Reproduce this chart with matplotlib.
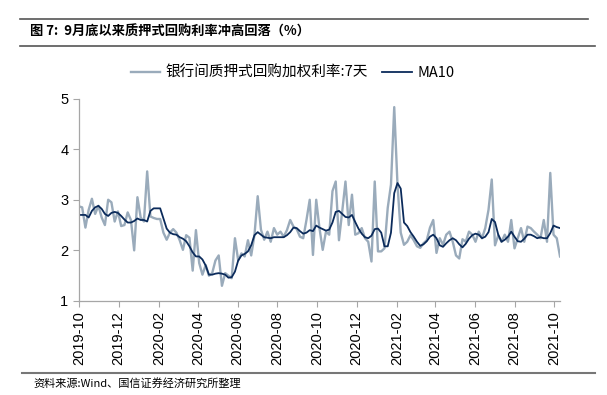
import matplotlib
matplotlib.use("Agg")
import matplotlib.pyplot as plt
import matplotlib.dates as mdates
import pandas as pd
import numpy as np

plt.rcParams['font.family'] = ['Liberation Sans', 'Noto Sans CJK SC', 'DejaVu Sans']

title = "图 7:  9月底以来质押式回购利率冲高回落（%）"
source = "资料来源:Wind、国信证券经济研究所整理"
series_name = "银行间质押式回购加权利率:7天"
ma_name = "MA10"

start_date = "2019-10-01"
step = "5D"

repo_7d = [
    2.87, 2.85, 2.45, 2.80, 3.02, 2.72, 2.88, 2.65, 2.50, 3.00,
    2.95, 2.57, 2.77, 2.48, 2.50, 2.75, 2.60, 2.00, 3.05, 2.65,
    2.57, 3.56, 2.67, 2.64, 2.62, 2.62, 2.35, 2.21, 2.35, 2.42,
    2.35, 2.20, 2.01, 2.30, 2.25, 1.60, 2.40, 1.75, 1.52, 1.71,
    1.50, 1.55, 1.80, 1.90, 1.30, 1.55, 1.50, 1.45, 2.24, 1.80,
    1.94, 1.88, 2.20, 1.90, 2.30, 3.07, 2.41, 2.21, 2.37, 2.17,
    2.44, 2.31, 2.37, 2.27, 2.40, 2.60, 2.47, 2.42, 2.27, 2.24,
    2.60, 3.00, 1.91, 3.00, 2.44, 2.01, 2.37, 2.31, 3.17, 3.36,
    2.20, 2.77, 3.36, 2.50, 3.10, 2.31, 2.34, 2.44, 2.24, 2.17,
    1.78, 3.36, 1.98, 1.98, 2.04, 2.84, 3.30, 4.83, 3.30, 2.35,
    2.11, 2.17, 2.30, 2.20, 2.08, 2.05, 2.14, 2.20, 2.45, 2.60,
    1.95, 2.24, 2.11, 2.31, 2.37, 2.17, 1.90, 1.84, 2.22, 2.17,
    2.37, 2.31, 2.17, 2.37, 2.24, 2.44, 2.80, 3.40, 2.10, 2.30,
    2.17, 2.31, 2.17, 2.60, 2.04, 2.24, 2.44, 2.17, 2.47, 2.44,
    2.37, 2.31, 2.24, 2.60, 2.17, 3.53, 2.31, 2.24, 1.88,
]

ma10 = [
    2.70, 2.70, 2.70, 2.65, 2.78, 2.85, 2.88, 2.82, 2.72, 2.68,
    2.74, 2.76, 2.74, 2.68, 2.61, 2.55, 2.55, 2.58, 2.63, 2.60,
    2.60, 2.57, 2.78, 2.83, 2.83, 2.83, 2.63, 2.43, 2.35, 2.32,
    2.31, 2.26, 2.23, 2.18, 2.08, 1.96, 1.88, 1.88, 1.82, 1.70,
    1.52, 1.52, 1.54, 1.55, 1.54, 1.52, 1.46, 1.47, 1.58, 1.80,
    1.90, 1.93, 1.98, 2.10, 2.30, 2.36, 2.31, 2.26, 2.25, 2.24,
    2.26, 2.26, 2.26, 2.26, 2.30, 2.36, 2.45, 2.44, 2.38, 2.33,
    2.35, 2.40, 2.38, 2.49, 2.45, 2.42, 2.39, 2.41, 2.55, 2.76,
    2.78, 2.72, 2.66, 2.65, 2.70, 2.56, 2.43, 2.33, 2.26, 2.24,
    2.29, 2.42, 2.43, 2.35, 2.08, 2.08, 2.35, 3.13, 3.33, 3.22,
    2.55, 2.48, 2.36, 2.27, 2.17, 2.09, 2.12, 2.18, 2.27, 2.31,
    2.24, 2.10, 2.07, 2.14, 2.20, 2.24, 2.20, 2.12, 2.06, 2.13,
    2.23, 2.30, 2.33, 2.31, 2.24, 2.27, 2.36, 2.62, 2.56, 2.31,
    2.17, 2.21, 2.27, 2.37, 2.27, 2.18, 2.17, 2.23, 2.31, 2.31,
    2.28, 2.24, 2.26, 2.24, 2.24, 2.34, 2.49, 2.46, 2.44,
]

y_ticks = [1, 2, 3, 4, 5]
x_tick_start = "2019-10-01"
x_tick_end = "2021-10-01"

dates = pd.date_range(start_date, periods=len(repo_7d), freq=step)
tick_dates = pd.date_range(x_tick_start, x_tick_end, freq="2MS")

fig = plt.figure(figsize=(6.07, 3.95), dpi=100)
ax = fig.add_axes([0.130, 0.238, 0.7926, 0.5126])

gray = "#9aabbb"
navy = "#0b2b5b"
axis_col = "#a6a6a6"

l1, = ax.plot(dates, repo_7d, color=gray, lw=1.7, label=series_name)
l2, = ax.plot(dates, ma10, color=navy, lw=1.3, label=ma_name)

ax.set_ylim(1, 5)
ax.set_yticks(y_ticks)
ax.set_xlim(dates[0], dates[-1])
ax.set_xticks(tick_dates)
ax.xaxis.set_major_formatter(mdates.DateFormatter("%Y-%m"))
for lab in ax.get_xticklabels():
    lab.set_rotation(90)
ax.tick_params(axis='both', labelsize=10.5, colors="black", length=4, width=0.8)
ax.tick_params(axis='both', color=axis_col)
for s in ["top", "right"]:
    ax.spines[s].set_visible(False)
for s in ["left", "bottom"]:
    ax.spines[s].set_color(axis_col)
    ax.spines[s].set_linewidth(0.9)

leg = fig.legend(handles=[l1, l2], loc="center", bbox_to_anchor=(0.482, 0.815),
                 ncol=2, frameon=False, handlelength=2.0,
                 handletextpad=0.4, columnspacing=1.0,
                 prop={'family': ['Noto Sans CJK SC', 'DejaVu Sans'], 'size': 10.5})

# header and footer
fig.add_artist(plt.Line2D([20/607, 588/607], [1-19/395, 1-19/395], color="#555555", lw=1.2))
fig.add_artist(plt.Line2D([20/607, 595/607], [1-46/395, 1-46/395], color="#555555", lw=1.2))
fig.add_artist(plt.Line2D([22/607, 595/607], [1-373/395, 1-373/395], color="#777777", lw=1.5))
fig.text(30/607, 1-32/395, title, fontsize=9.5, fontweight="bold", va="center", ha="left",
         family=['Noto Sans CJK SC', 'DejaVu Sans'])
fig.text(33/607, 1-383/395, source, fontsize=8.0, va="center", ha="left",
         family=['Noto Sans CJK SC', 'DejaVu Sans'])

fig.savefig("out.png", dpi=100)
